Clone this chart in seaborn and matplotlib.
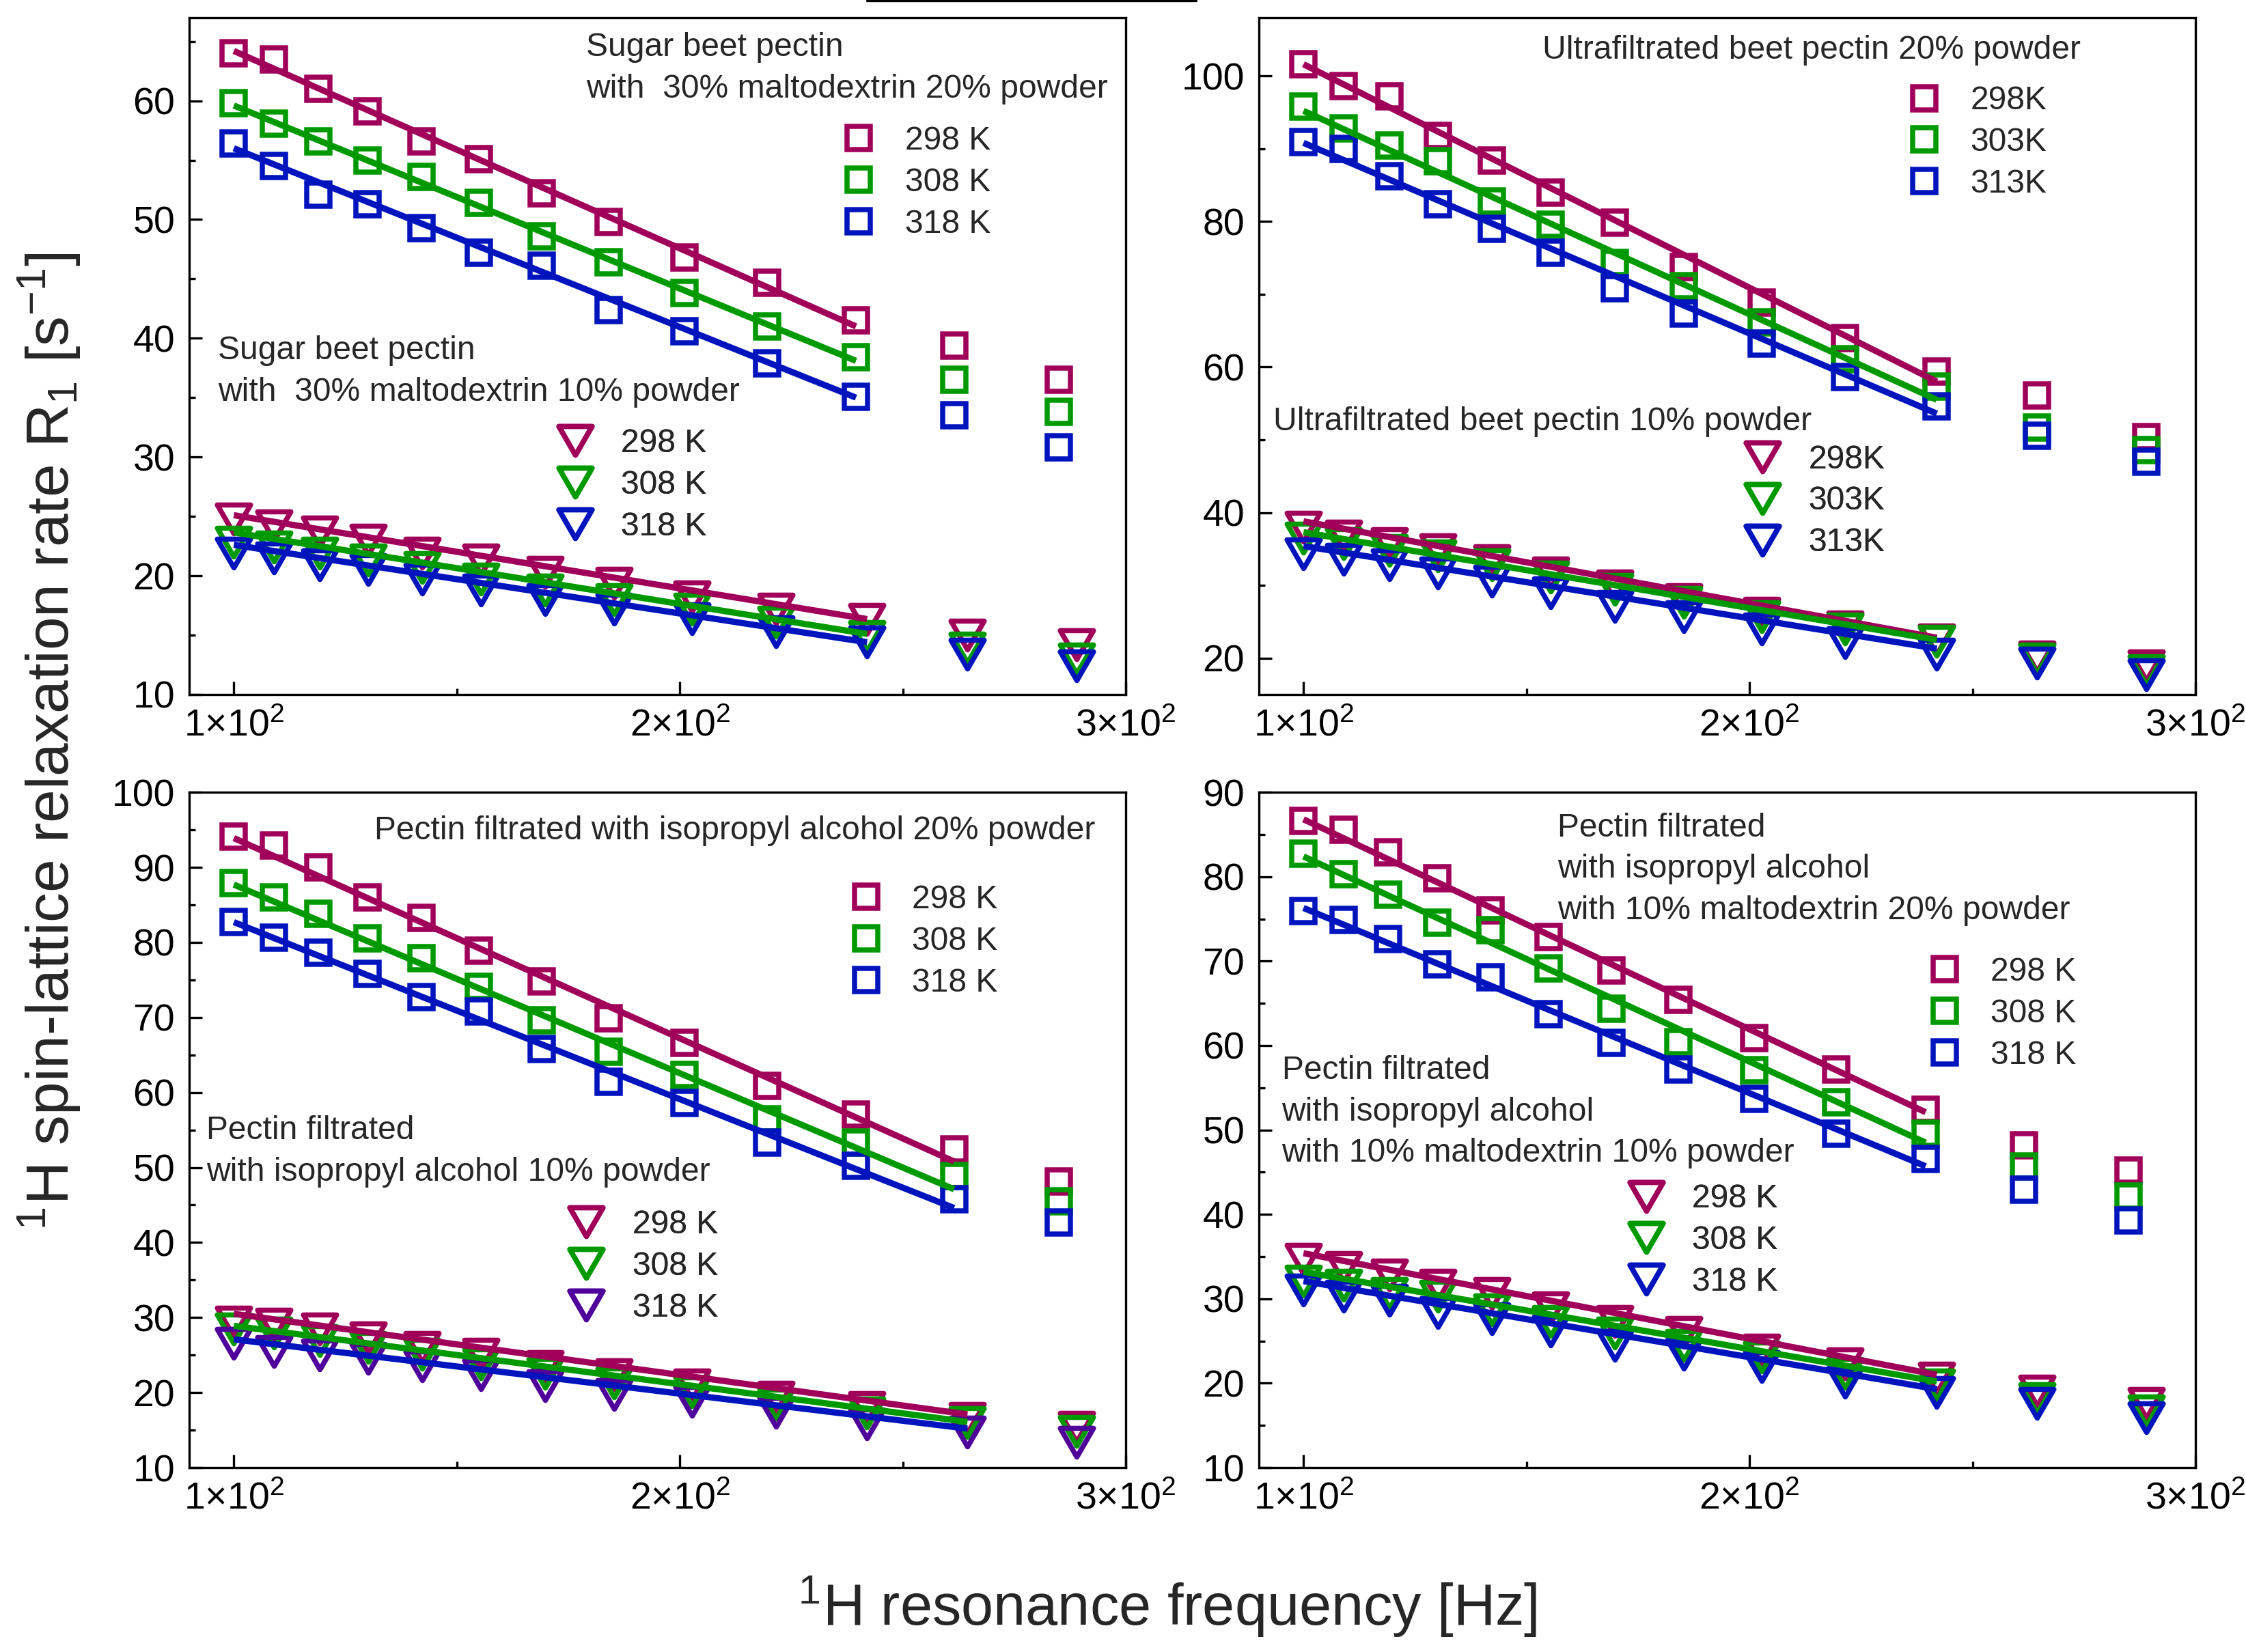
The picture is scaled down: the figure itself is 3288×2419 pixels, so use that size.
import numpy as np
import seaborn as sns
import matplotlib.pyplot as plt
from matplotlib.lines import Line2D
from matplotlib.path import Path
from matplotlib.ticker import MultipleLocator, FixedLocator, FixedFormatter

# frequencies (two slightly different sets of measurement points)
freq_a = [100, 109, 119, 130, 142, 155, 169, 184, 201, 219.5, 239.5, 261.5, 285]
freq_b = [100, 109, 119.2, 130.2, 142.2, 155.4, 169.8, 185.3, 202.7, 221.5, 242, 264.5, 289]

labels_a = ['298 K', '308 K', '318 K']
labels_b = ['298K', '303K', '313K']

# --- Sugar beet pectin with 30% maltodextrin (top left)
tl_sq_298 = [64.0, 63.5, 61.0, 59.1, 56.6, 55.1, 52.2, 49.8, 46.8, 44.7, 41.5, 39.4, 36.5]
tl_sq_308 = [59.8, 58.1, 56.6, 55.0, 53.6, 51.4, 48.6, 46.4, 43.8, 41.0, 38.4, 36.5, 33.8]
tl_sq_318 = [56.4, 54.5, 52.1, 51.3, 49.3, 47.2, 46.1, 42.4, 40.6, 37.9, 35.1, 33.5, 30.8]
tl_sq_fit = [(64.2, 41.0), (59.6, 38.1), (56.0, 35.0)]
tl_tr_298 = [24.8, 24.2, 23.7, 23.0, 21.9, 21.3, 20.3, 19.4, 18.2, 17.2, 16.3, 15.0, 14.2]
tl_tr_308 = [22.8, 22.4, 21.9, 21.3, 20.7, 19.7, 18.8, 18.0, 17.2, 16.1, 14.9, 13.9, 13.0]
tl_tr_318 = [21.9, 21.5, 20.9, 20.5, 19.7, 18.8, 18.0, 17.2, 16.4, 15.3, 14.4, 13.4, 12.4]
tl_tr_fit = [(25.1, 16.35), (23.65, 15.1), (22.6, 14.4)]

# --- Ultrafiltrated beet pectin (top right)
tr_sq_298 = [101.6, 98.6, 97.2, 91.8, 88.4, 84.0, 79.8, 73.7, 68.9, 64.0, 59.4, 56.1, 50.4]
tr_sq_303 = [95.8, 92.8, 90.4, 88.3, 82.7, 79.6, 74.3, 71.1, 66.1, 61.1, 57.3, 51.7, 48.6]
tr_sq_313 = [90.9, 90.0, 86.2, 82.4, 79.0, 75.7, 70.8, 67.4, 63.2, 58.6, 54.6, 50.6, 47.0]
tr_sq_fit = [(101.6, 58.0), (95.2, 55.5), (90.8, 53.6)]
tr_tr_298 = [38.0, 36.8, 35.7, 34.9, 33.4, 31.7, 29.9, 28.0, 26.2, 24.3, 22.5, 20.2, 18.9]
tr_tr_303 = [36.5, 35.7, 34.8, 34.0, 32.8, 31.1, 29.4, 27.7, 25.7, 24.0, 22.3, 19.9, 18.3]
tr_tr_313 = [34.3, 33.6, 32.8, 31.7, 30.6, 29.0, 27.1, 25.7, 24.0, 22.1, 20.5, 19.3, 17.7]
tr_tr_fit = [(38.8, 22.8), (37.3, 22.5), (35.4, 21.3)]

# --- Pectin filtrated with isopropyl alcohol (bottom left)
bl_sq_298 = [94.1, 92.9, 90.0, 86.0, 83.3, 78.9, 74.8, 69.9, 66.6, 60.9, 57.1, 52.4, 48.1]
bl_sq_308 = [87.9, 86.0, 83.8, 80.5, 77.9, 74.1, 69.6, 65.4, 62.3, 56.4, 53.3, 48.9, 45.5]
bl_sq_318 = [82.7, 80.6, 78.6, 75.8, 72.7, 70.8, 65.8, 61.4, 58.6, 53.3, 50.2, 45.8, 42.7]
bl_sq_fit = [(93.9, 50.8), (87.7, 47.1), (82.7, 44.6)]
bl_tr_298 = [29.4, 29.1, 28.5, 27.3, 26.0, 25.1, 23.5, 22.4, 21.0, 19.4, 18.0, 16.6, 15.4]
bl_tr_308 = [28.5, 27.9, 26.9, 26.0, 25.1, 23.8, 22.6, 21.3, 20.1, 18.5, 17.3, 16.0, 14.8]
bl_tr_318 = [26.6, 25.5, 25.0, 24.6, 23.6, 22.4, 20.9, 19.7, 18.8, 17.4, 15.8, 14.7, 13.4]
bl_tr_fit = [(30.5, 17.1), (28.9, 16.1), (27.1, 15.2)]

# --- Pectin filtrated with isopropyl alcohol with 10% maltodextrin (bottom right)
br_sq_298 = [86.6, 85.6, 82.9, 79.8, 76.0, 72.9, 68.9, 65.4, 60.9, 57.2, 52.4, 48.2, 45.2]
br_sq_308 = [82.7, 80.3, 77.9, 74.6, 73.7, 69.1, 64.4, 60.4, 57.1, 53.3, 49.6, 45.7, 42.1]
br_sq_318 = [75.9, 74.9, 72.6, 69.6, 68.1, 63.7, 60.3, 57.2, 53.7, 49.6, 46.6, 42.9, 39.3]
br_sq_fit = [(86.8, 52.1), (82.4, 48.5), (76.3, 45.7)]
br_tr_298 = [34.7, 33.7, 32.8, 31.6, 30.6, 28.9, 27.3, 26.0, 23.9, 22.3, 20.6, 19.1, 17.6]
br_tr_308 = [32.1, 31.6, 30.6, 30.3, 28.7, 27.3, 25.9, 24.5, 23.1, 21.2, 19.8, 18.2, 16.7]
br_tr_318 = [31.0, 30.3, 29.8, 28.4, 27.6, 26.2, 24.5, 23.4, 22.0, 20.1, 18.9, 17.6, 15.9]
br_tr_fit = [(35.4, 21.0), (33.2, 20.2), (32.1, 19.3)]

MAG, GRN, BLU, PUR = '#A0005A', '#009A00', '#0014BE', '#50009A'

sns.set_style('ticks')
plt.rcParams['font.family'] = ['Liberation Sans', 'DejaVu Sans']
plt.rcParams['mathtext.fontset'] = 'custom'
plt.rcParams['mathtext.rm'] = 'Liberation Sans'
plt.rcParams['mathtext.it'] = 'Liberation Sans:italic'
plt.rcParams['axes.linewidth'] = 1.2
plt.rcParams['axes.edgecolor'] = 'black'

DPI = 200
fig = plt.figure(figsize=(16.44, 12.095), dpi=DPI)

FS = 17.3
SQ_MS = 12.2
TRI_MS = 17.5
MEW = 2.7
tri_marker = Path([(-1, 0.866), (1, 0.866), (0, -0.866), (-1, 0.866)], closed=True)


def draw_set(ax, x, ys, fits, n_fit, marker, ms, mcolors, lcolors, labels):
    handles = []
    for y, (y0, y1), mc, lc, lab in zip(ys, fits, mcolors, lcolors, labels):
        sns.lineplot(x=x, y=y, ax=ax, marker=marker, linestyle='', ms=ms,
                     mfc='none', mec=mc, mew=MEW, color=mc, label=lab,
                     legend=False, zorder=2)
        handles.append(ax.lines[-1])
        sns.lineplot(x=[x[0], x[n_fit - 1]], y=[y0, y1], ax=ax, color=lc,
                     lw=3.3, legend=False, zorder=3, solid_capstyle='butt')
    return handles


def add_legend(ax, handles, labels, mx, my):
    hl = 0.8
    fs_px = FS * DPI / 72
    ax_w = ax.get_position().width * fig.get_figwidth() * DPI
    x0 = mx - (hl * fs_px / 2) / ax_w
    leg = ax.legend(handles, labels, loc='center left', bbox_to_anchor=(x0, my - 0.0065),
                    frameon=False, fontsize=FS, handlelength=hl, handletextpad=1.0,
                    labelspacing=0.33, borderpad=0, borderaxespad=0)
    ax.add_artist(leg)


panels = [
    dict(pos=(0.08425, 0.5796, 0.417, 0.4097), ylim=(10, 67), ymaj=10, ymin=5,
         sq_x=freq_a, sq=[tl_sq_298, tl_sq_308, tl_sq_318], sq_fit=tl_sq_fit, sq_n=11,
         tr=[tl_tr_298, tl_tr_308, tl_tr_318], tr_fit=tl_tr_fit, tr_n=11,
         tri_colors=[MAG, GRN, BLU], labels=labels_a,
         t1=('Sugar beet pectin\nwith  30% maltodextrin 20% powder', 0.424, 0.929),
         leg1=(0.715, 0.763),
         t2=('Sugar beet pectin\nwith  30% maltodextrin 10% powder', 0.0306, 0.481),
         leg2=(0.412, 0.316)),
    dict(pos=(0.5605, 0.5796, 0.417, 0.4097), ylim=(15, 108), ymaj=20, ymin=10,
         sq_x=freq_b, sq=[tr_sq_298, tr_sq_303, tr_sq_313], sq_fit=tr_sq_fit, sq_n=11,
         tr=[tr_tr_298, tr_tr_303, tr_tr_313], tr_fit=tr_tr_fit, tr_n=11,
         tri_colors=[MAG, GRN, BLU], labels=labels_b,
         t1=('Ultrafiltrated beet pectin 20% powder', 0.303, 0.9555),
         leg1=(0.7106, 0.822),
         t2=('Ultrafiltrated beet pectin 10% powder', 0.0153, 0.407),
         leg2=(0.5375, 0.292)),
    dict(pos=(0.08425, 0.1116, 0.417, 0.4088), ylim=(10, 100), ymaj=10, ymin=5,
         sq_x=freq_a, sq=[bl_sq_298, bl_sq_308, bl_sq_318], sq_fit=bl_sq_fit, sq_n=12,
         tr=[bl_tr_298, bl_tr_308, bl_tr_318], tr_fit=bl_tr_fit, tr_n=12,
         tri_colors=[MAG, GRN, PUR], labels=labels_a,
         t1=('Pectin filtrated with isopropyl alcohol 20% powder', 0.1975, 0.947),
         leg1=(0.7228, 0.786),
         t2=('Pectin filtrated\nwith isopropyl alcohol 10% powder', 0.0184, 0.4725),
         leg2=(0.424, 0.3044)),
    dict(pos=(0.5605, 0.1116, 0.417, 0.4088), ylim=(10, 90), ymaj=10, ymin=5,
         sq_x=freq_a, sq=[br_sq_298, br_sq_308, br_sq_318], sq_fit=br_sq_fit, sq_n=11,
         tr=[br_tr_298, br_tr_308, br_tr_318], tr_fit=br_tr_fit, tr_n=11,
         tri_colors=[MAG, GRN, BLU], labels=labels_a,
         t1=('Pectin filtrated\nwith isopropyl alcohol\nwith 10% maltodextrin 20% powder', 0.3185, 0.890),
         leg1=(0.732, 0.6786),
         t2=('Pectin filtrated\nwith isopropyl alcohol\nwith 10% maltodextrin 10% powder', 0.0245, 0.5307),
         leg2=(0.4135, 0.3425)),
]

for p in panels:
    ax = fig.add_axes(p['pos'])
    line_colors = [MAG, GRN, BLU]
    h_sq = draw_set(ax, p['sq_x'], p['sq'], p['sq_fit'], p['sq_n'], 's', SQ_MS,
                    [MAG, GRN, BLU], line_colors, p['labels'])
    h_tr = draw_set(ax, freq_b, p['tr'], p['tr_fit'], p['tr_n'], tri_marker, TRI_MS,
                    p['tri_colors'], line_colors, p['labels'])

    ax.set_xlim(90, 300)
    ax.set_ylim(*p['ylim'])
    ax.xaxis.set_major_locator(FixedLocator([100, 200, 300]))
    ax.xaxis.set_major_formatter(FixedFormatter(['1×10$^{2}$', '2×10$^{2}$', '3×10$^{2}$']))
    ax.xaxis.set_minor_locator(FixedLocator([150, 250]))
    ax.yaxis.set_major_locator(MultipleLocator(p['ymaj']))
    ax.yaxis.set_minor_locator(MultipleLocator(p['ymin']))
    ax.tick_params(which='both', direction='in', top=False, right=False,
                   width=1.2, labelsize=20, pad=7.5, colors='black')
    ax.tick_params(which='major', length=6.8)
    ax.tick_params(which='minor', length=3.4)
    ax.set_xlabel('')
    ax.set_ylabel('')
    for s in ax.spines.values():
        s.set_visible(True)
        s.set_linewidth(1.2)

    for key in ('t1', 't2'):
        txt, tx, ty = p[key]
        ax.text(tx, ty - 0.004, txt, transform=ax.transAxes, ha='left', va='center',
                fontsize=FS, linespacing=1.45)
    add_legend(ax, h_sq, p['labels'], *p['leg1'])
    add_legend(ax, h_tr, p['labels'], *p['leg2'])

fig.text(0.0222, 0.5515, '$^{1}$H spin-lattice relaxation rate R$_{1}$ [s$^{-1}$]',
         rotation=90, ha='center', va='center', fontsize=31.5)
fig.text(0.5198, 0.0273, '$^{1}$H resonance frequency [Hz]',
         ha='center', va='center', fontsize=30.5)

# short rule at the top edge
fig.add_artist(Line2D([0.386, 0.5326], [0.9994, 0.9994], transform=fig.transFigure,
                      color='black', lw=1.2))

fig.savefig('out.png', dpi=DPI)
